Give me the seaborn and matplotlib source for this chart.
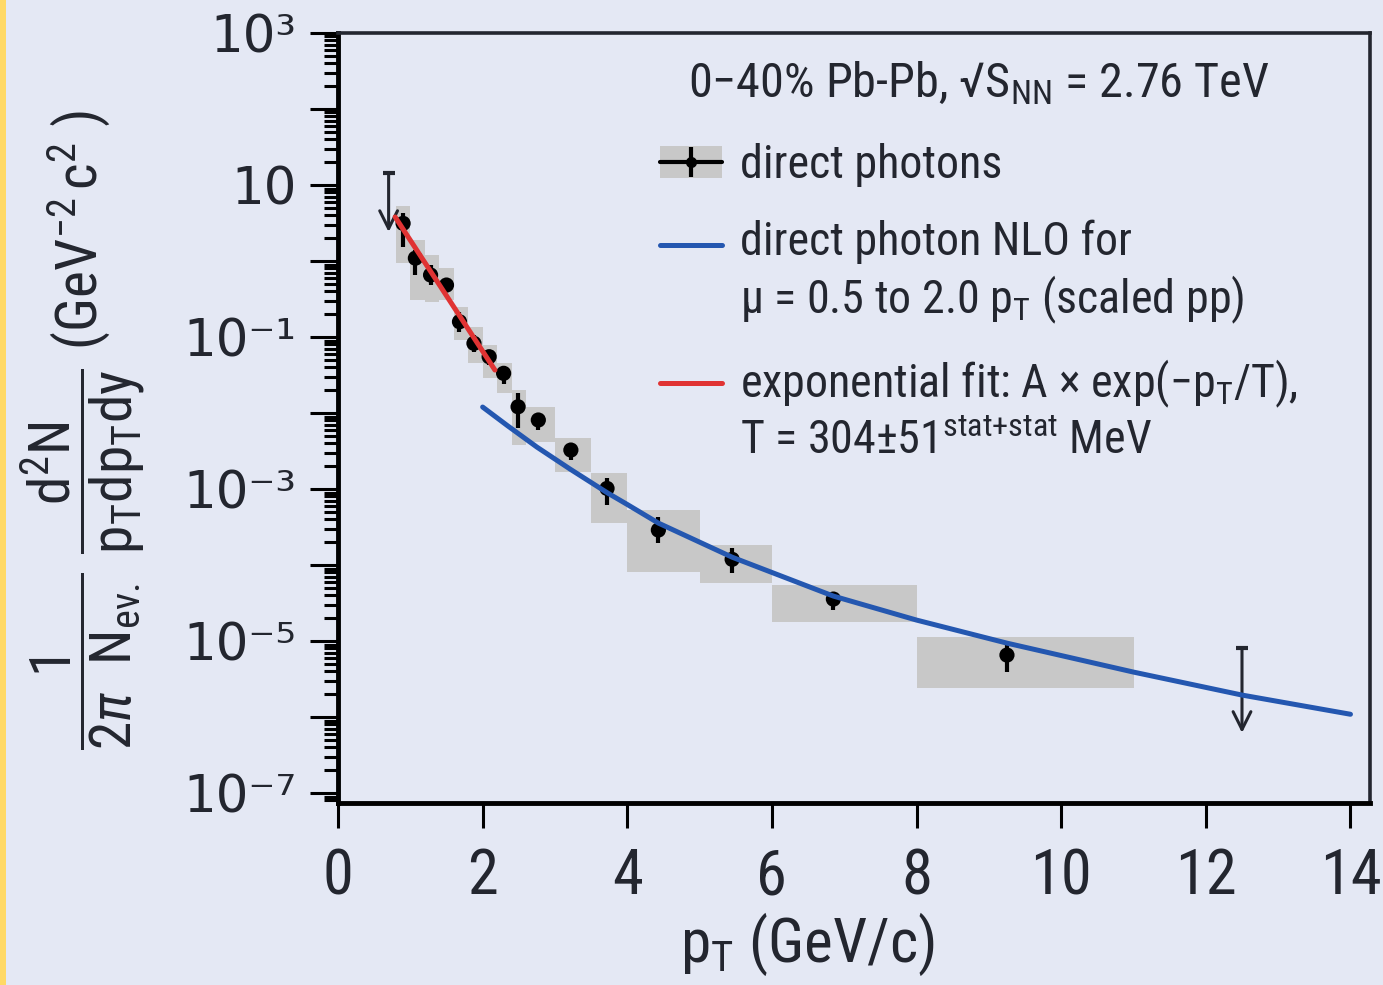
"""
Direct photon spectrum in 0-40% Pb-Pb collisions at 2.76 TeV
"""

import numpy as np
import matplotlib
matplotlib.use('Agg')
import matplotlib.pyplot as plt
import seaborn as sns
from matplotlib import font_manager
from matplotlib.lines import Line2D
from matplotlib.patches import Patch, Rectangle
from matplotlib.legend_handler import HandlerLine2D
from matplotlib.ticker import LogLocator, FuncFormatter, NullFormatter

# ============================================================================
# DATA
# ============================================================================

# direct photon points
pt = [0.9, 1.07, 1.28, 1.5, 1.68, 1.88, 2.09, 2.29, 2.49, 2.77, 3.22, 3.72, 4.43, 5.45, 6.85, 9.25]
yield_val = [3.13, 1.09, 0.655, 0.483, 0.159, 0.0826, 0.0551, 0.0333, 0.0121, 0.0081,
             0.00326, 1.02e-3, 2.89e-4, 1.19e-4, 3.57e-5, 6.55e-6]
stat_hi = [4.28, 1.40, 0.886, 0.562, 0.213, 0.106, 0.0674, 0.0415, 0.0183, 0.0100,
           0.00379, 1.40e-3, 4.28e-4, 1.67e-4, 4.41e-5, 8.85e-6]
stat_lo = [1.53, 0.655, 0.483, 0.391, 0.116, 0.0635, 0.0428, 0.0241, 0.00635, 0.00597,
           0.00241, 6.15e-4, 1.95e-4, 7.85e-5, 2.56e-5, 3.91e-6]

# systematic boxes
bin_lo = [0.8, 1.0, 1.2, 1.4, 1.6, 1.8, 2.0, 2.2, 2.4, 2.6, 3.0, 3.5, 4.0, 5.0, 6.0, 8.0]
bin_hi = [1.0, 1.2, 1.4, 1.6, 1.8, 2.0, 2.2, 2.4, 2.6, 3.0, 3.5, 4.0, 5.0, 6.0, 8.0, 11.0]
sys_hi = [5.3, 1.89, 1.2, 0.81, 0.248, 0.1355, 0.0785, 0.0455, 0.0201, 0.012,
          0.00469, 1.63e-3, 5.3e-4, 1.83e-4, 5.46e-5, 1.13e-5]
sys_lo = [0.94, 0.307, 0.289, 0.307, 0.0914, 0.0455, 0.0289, 0.0183, 0.00379, 0.00415,
          0.00168, 3.57e-4, 8.1e-5, 5.8e-5, 1.78e-5, 2.41e-6]

# upper limits
ul_pt = [0.7, 12.5]
ul_val = [14.4, 8.1e-6]
ul_tip = [2.41, 6.2e-7]

# NLO pQCD curve (scaled pp)
nlo_pt = [2.0, 2.35, 2.75, 3.21, 3.73, 4.0, 4.43, 5.45, 6.85, 8.0, 9.25, 11.0, 12.5, 14.0]
nlo_y = [1.20e-2, 6.75e-3, 3.57e-3, 1.83e-3, 8.86e-4, 6.27e-4, 3.57e-4, 1.27e-4, 3.91e-5,
         1.89e-5, 9.4e-6, 3.91e-6, 1.95e-6, 1.09e-6]

# exponential fit (straight on log axis)
fit_pt = [0.79, 2.17]
fit_y = [3.8, 0.0368]

x_ticks = [0, 2, 4, 6, 8, 10, 12, 14]

HEADER = '0−40% Pb-Pb, √S$_{\\mathrm{NN}}$ = 2.76 TeV'
LABELS = ['direct photons',
          'direct photon NLO for\nμ = 0.5 to 2.0 p$_{\\mathrm{T}}$ (scaled pp)',
          'exponential fit: A × exp(−p$_{\\mathrm{T}}$/T),\n'
          'T = 304±51$^{\\mathrm{stat{+}stat}}$ MeV']

# ============================================================================
# STYLE
# ============================================================================

BG = '#e4e8f4'
BOX = '#c8c8c8'
BLUE = '#2457b0'
RED = '#e03333'
DARK = '#23262f'

sns.set_theme(style='ticks')

# pick a narrow sans face if one is installed
fm = font_manager.fontManager
names = {f.name for f in fm.ttflist}
FONT, STRETCH = None, 'normal'
for c in ['Liberation Sans Narrow', 'Roboto Condensed', 'DejaVu Sans Condensed',
          'Noto Sans Condensed', 'Open Sans Condensed']:
    if c in names:
        FONT = c
        break
if FONT is None:
    for c in ['Noto Sans', 'Roboto', 'Open Sans', 'DejaVu Sans']:
        if any(f.name == c and f.stretch == 'condensed' for f in fm.ttflist):
            FONT, STRETCH = c, 'condensed'
            break
if FONT is None:
    FONT = 'Roboto'

plt.rcParams['font.family'] = [FONT, 'DejaVu Sans']
plt.rcParams['font.stretch'] = STRETCH
plt.rcParams['mathtext.fontset'] = 'custom'
plt.rcParams['mathtext.rm'] = FONT
plt.rcParams['mathtext.it'] = FONT + ':italic'
plt.rcParams['mathtext.bf'] = FONT + ':bold'
plt.rcParams['text.color'] = DARK
plt.rcParams['axes.labelcolor'] = DARK

fig = plt.figure(figsize=(13.83, 9.85), dpi=100, facecolor=BG)
fig.patches.append(Rectangle((0, 0), 6 / 1383, 1, transform=fig.transFigure,
                             facecolor='#ffd966', edgecolor='none', zorder=0))
ax = fig.add_axes([338 / 1383, 182 / 985, 1032 / 1383, 770 / 985])
ax.set_facecolor(BG)
renderer = fig.canvas.get_renderer()


def fit_size(s, target_px, base, rot=0):
    t = fig.text(0, 0, s, fontsize=base, rotation=rot)
    bb = t.get_window_extent(renderer=renderer)
    t.remove()
    w = bb.height if rot else bb.width
    return base * target_px / w


# ============================================================================
# PLOT
# ============================================================================

pt_a = np.array(pt)
y_a = np.array(yield_val)

ax.bar(bin_lo, np.array(sys_hi) - np.array(sys_lo), bottom=sys_lo,
       width=np.array(bin_hi) - np.array(bin_lo), align='edge',
       color=BOX, edgecolor='none', zorder=1)

ax.errorbar(pt_a, y_a, yerr=[y_a - np.array(stat_lo), np.array(stat_hi) - y_a],
            fmt='none', ecolor='black', elinewidth=3, capsize=0, zorder=3)
sns.scatterplot(x=pt, y=yield_val, ax=ax, color='black', s=120,
                edgecolor='none', zorder=4)

for x, top, tip in zip(ul_pt, ul_val, ul_tip):
    ax.annotate('', xy=(x, tip), xytext=(x, top),
                arrowprops=dict(arrowstyle='->', color=DARK, lw=2.2,
                                mutation_scale=32, shrinkA=0, shrinkB=0),
                zorder=4)
    ax.plot([x], [top], marker='_', ms=9, mew=3, color=DARK, zorder=4)

sns.lineplot(x=nlo_pt, y=nlo_y, ax=ax, color=BLUE, lw=3.6, zorder=5)
sns.lineplot(x=fit_pt, y=fit_y, ax=ax, color=RED, lw=3.6, zorder=5)

# ============================================================================
# AXES
# ============================================================================

ax.set_yscale('log')
ax.set_xlim(0, 14.27)
ax.set_ylim(10 ** -7.13, 1e3)

ax.set_xticks(x_ticks)
ax.set_xticklabels([str(t) for t in x_ticks])
ax.xaxis.set_minor_locator(plt.NullLocator())

sup = str.maketrans('-0123456789', '⁻⁰¹²³⁴⁵⁶⁷⁸⁹')


def ylab(v, pos):
    e = int(round(np.log10(v)))
    if e % 2 == 0:
        return ''
    if e == 1:
        return '10'
    return '10' + str(e).translate(sup)


ax.yaxis.set_major_locator(LogLocator(base=10, numticks=30))
ax.yaxis.set_major_formatter(FuncFormatter(ylab))
ax.yaxis.set_minor_locator(LogLocator(base=10, subs=np.arange(2, 10), numticks=30))
ax.yaxis.set_minor_formatter(NullFormatter())

for s in ['top', 'right']:
    ax.spines[s].set_linewidth(2.6)
    ax.spines[s].set_color(DARK)
for s in ['left', 'bottom']:
    ax.spines[s].set_linewidth(3.5)
    ax.spines[s].set_color('black')

ax.tick_params(axis='x', which='major', direction='out', length=18, width=2.2,
               color='black', pad=14, labelsize=45, labelcolor=DARK)
ax.tick_params(axis='y', which='major', direction='out', length=20, width=2.2,
               color='black', pad=10, labelsize=37, labelcolor=DARK)
ax.tick_params(axis='y', which='minor', direction='out', length=10, width=2.2,
               color='black')
for lbl in ax.get_yticklabels():
    lbl.set_fontfamily('DejaVu Sans')
    lbl.set_fontstretch('normal')

xlabel = r'p$_{\mathrm{T}}$ (GeV/c)'
ax.set_xlabel(xlabel, fontsize=min(46, fit_size(xlabel, 255, 45)))
ax.xaxis.set_label_coords(0.455, -0.14)

ylabel = (r'$\dfrac{1}{2\pi\ \ \mathrm{N}_{\mathrm{ev.}}}\ \dfrac{\mathrm{d}^2\mathrm{N}}'
          r'{\mathrm{p_T dp_T dy}}\ (\mathrm{GeV}^{-2}\,\mathrm{c}^{2}\ )$')
ax.set_ylabel(ylabel, fontsize=min(42, fit_size(ylabel, 640, 37, rot=90)))
ax.yaxis.set_label_coords(-0.247, 0.484)
ax.yaxis.label.set_va('center')

# ============================================================================
# LEGEND
# ============================================================================

leg_fs = min(37, fit_size('exponential fit: A × exp(−p$_{\\mathrm{T}}$/T),', 558, 36))
LINESP = 1.25


class FirstLineHandler(HandlerLine2D):
    """Line handle aligned with the first line of a two-line label."""

    def create_artists(self, legend, orig_handle, xdescent, ydescent,
                       width, height, fontsize, trans):
        arts = super().create_artists(legend, orig_handle, xdescent, ydescent,
                                      width, height, fontsize, trans)
        for a in arts:
            a.set_ydata(np.asarray(a.get_ydata()) + 0.5 * LINESP * fontsize)
        return arts


h_data = (Patch(facecolor=BOX, edgecolor='none'),
          Line2D([], [], color='black', lw=3),
          Line2D([], [], color='black', ls='none', marker='|', ms=22, mew=3),
          Line2D([], [], color='black', ls='none', marker='o', ms=7))
h_nlo = Line2D([], [], color=BLUE, lw=3.6)
h_fit = Line2D([], [], color=RED, lw=3.6)

leg = ax.legend([h_data, h_nlo, h_fit], LABELS,
                title=HEADER,
                handler_map={h_nlo: FirstLineHandler(), h_fit: FirstLineHandler()},
                loc='upper left', bbox_to_anchor=(0.312, 0.965),
                frameon=False, fontsize=leg_fs,
                title_fontsize=min(37, fit_size(HEADER, 582, 36)),
                handlelength=62 / (leg_fs * 100 / 72), handletextpad=0.4,
                labelspacing=0.7, borderpad=0, borderaxespad=0)
leg._legend_box.align = 'center'
leg._legend_box.sep = 0.45 * leg_fs + 11
for t in leg.get_texts():
    t.set_color(DARK)
    t.set_linespacing(LINESP)

fig.savefig('out.png', dpi=100, facecolor=BG)
